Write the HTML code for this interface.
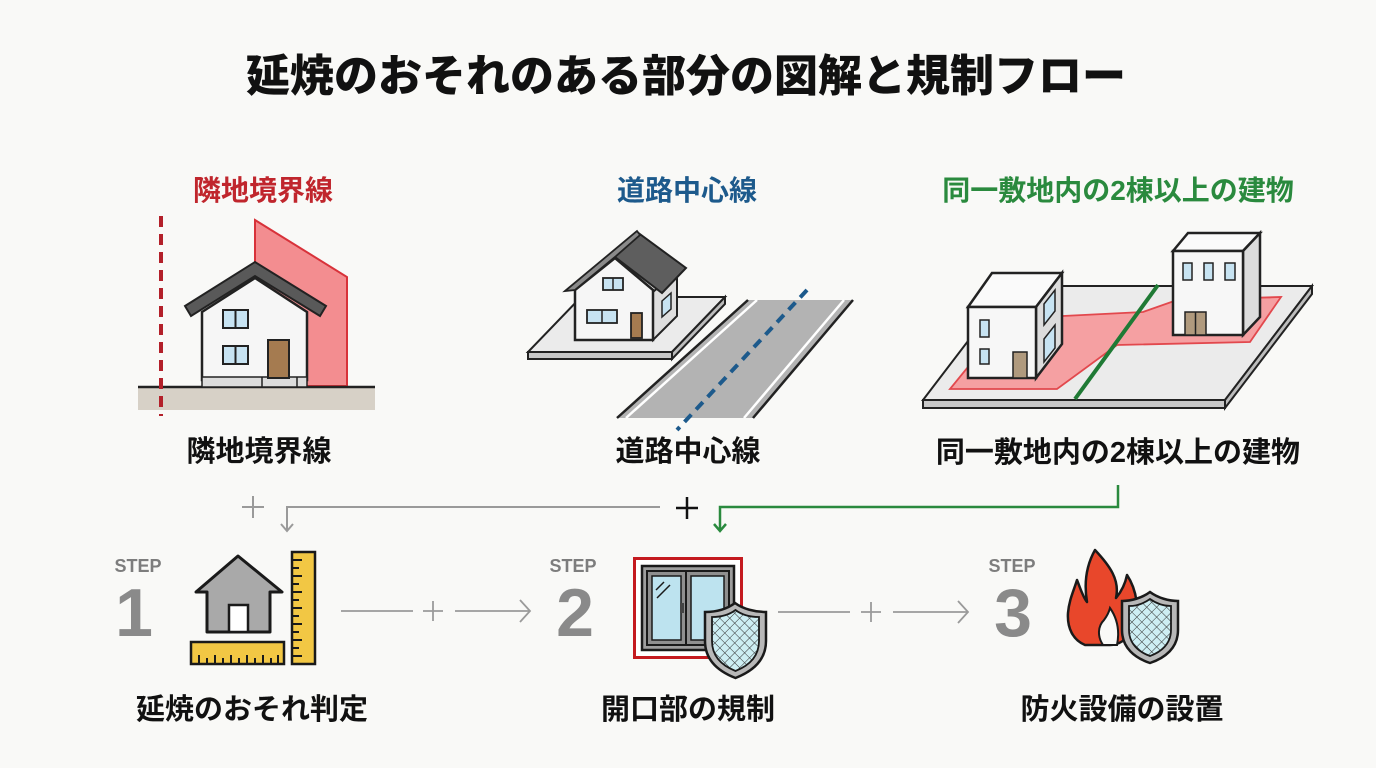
<!DOCTYPE html>
<html lang="ja">
<head>
<meta charset="utf-8">
<style>
  html,body{margin:0;padding:0;background:#f9f9f7;}
  body{width:1376px;height:768px;overflow:hidden;}
  svg{display:block;}
  text{font-family:"Liberation Sans","Noto Sans CJK JP",sans-serif;}
</style>
</head>
<body>
<svg width="1376" height="768" viewBox="0 0 1376 768" xmlns="http://www.w3.org/2000/svg">
  <defs>
    <pattern id="mesh" width="7" height="7" patternUnits="userSpaceOnUse" patternTransform="rotate(45)">
      <rect width="7" height="7" fill="#cdeef3"/>
      <line x1="0" y1="0" x2="0" y2="7" stroke="#333" stroke-width="1"/>
      <line x1="0" y1="0" x2="7" y2="0" stroke="#333" stroke-width="1"/>
    </pattern>
  </defs>

  <rect width="1376" height="768" fill="#f9f9f7"/>

  <!-- Title -->
  <text x="686" y="91" font-size="44" font-weight="900" text-anchor="middle" fill="#111">延焼のおそれのある部分の図解と規制フロー</text>

  <!-- ============ Panel 1: 隣地境界線 ============ -->
  <text x="263" y="200" font-size="28" font-weight="700" text-anchor="middle" fill="#c0262d">隣地境界線</text>
  <polygon points="255,220 347,277 347,386 255,386" fill="#f38d90" stroke="#d8323a" stroke-width="2"/>
  <rect x="138" y="387" width="237" height="23" fill="#d7d1c7"/>
  <line x1="138" y1="387" x2="375" y2="387" stroke="#222" stroke-width="2.5"/>
  <polygon points="202,312 255,278 307,312 307,380 202,380" fill="#f6f6f6" stroke="#222" stroke-width="2.5"/>
  <rect x="202" y="377" width="105" height="10" fill="#dcdcdc" stroke="#222" stroke-width="1.5"/>
  <line x1="262" y1="377" x2="262" y2="387" stroke="#222" stroke-width="1.5"/>
  <line x1="297" y1="377" x2="297" y2="387" stroke="#222" stroke-width="1.5"/>
  <polygon points="185,306 255,262 326,306 320,316 255,276 191,316" fill="#595959" stroke="#222" stroke-width="2"/>
  <rect x="223" y="310" width="25" height="18" fill="#c7e3f2" stroke="#222" stroke-width="2"/>
  <line x1="235.5" y1="310" x2="235.5" y2="328" stroke="#222" stroke-width="2"/>
  <rect x="223" y="346" width="25" height="18" fill="#c7e3f2" stroke="#222" stroke-width="2"/>
  <line x1="235.5" y1="346" x2="235.5" y2="364" stroke="#222" stroke-width="2"/>
  <rect x="268" y="340" width="21" height="38" fill="#a57b50" stroke="#222" stroke-width="2"/>
  <line x1="161" y1="216" x2="161" y2="416" stroke="#b3202a" stroke-width="4" stroke-dasharray="11 7"/>
  <text x="259" y="461" font-size="29" font-weight="700" text-anchor="middle" fill="#111">隣地境界線</text>

  <!-- ============ Panel 2: 道路中心線 ============ -->
  <text x="687" y="200" font-size="28" font-weight="700" text-anchor="middle" fill="#1d5a8c">道路中心線</text>
  <polygon points="528,352 672,352 725,297 581,297" fill="#ebebeb" stroke="#222" stroke-width="2"/>
  <polygon points="528,352 672,352 672,359 528,359" fill="#c8c8c8" stroke="#222" stroke-width="2"/>
  <polygon points="672,352 725,297 725,304 672,359" fill="#bdbdbd" stroke="#222" stroke-width="2"/>
  <polygon points="653,292 677,271 677,316 653,340" fill="#dedede" stroke="#222" stroke-width="2"/>
  <polygon points="575,340 575,290 615,258 653,290 653,340" fill="#f6f6f6" stroke="#222" stroke-width="2.5"/>
  <polygon points="615,257 637,232 686,268 662,293" fill="#5e5e5e" stroke="#222" stroke-width="2"/>
  <polygon points="565,291 637,231 640,235 615,257 575,290" fill="#8a8a8a" stroke="#222" stroke-width="1.8"/>
  <rect x="603" y="278" width="20" height="12" fill="#c7e3f2" stroke="#222" stroke-width="1.8"/>
  <line x1="613" y1="278" x2="613" y2="290" stroke="#222" stroke-width="1.5"/>
  <rect x="587" y="310" width="30" height="13" fill="#c7e3f2" stroke="#222" stroke-width="1.8"/>
  <line x1="602" y1="310" x2="602" y2="323" stroke="#222" stroke-width="1.5"/>
  <rect x="631" y="313" width="11" height="25" fill="#a57b50" stroke="#222" stroke-width="1.8"/>
  <polygon points="662,301 671,293 671,309 662,317" fill="#c7e3f2" stroke="#222" stroke-width="1.5"/>
  <polygon points="617,418 753,418 853,300 748,300" fill="#b3b3b3"/>
  <line x1="626" y1="418" x2="757" y2="300" stroke="#fff" stroke-width="2.5"/>
  <line x1="744" y1="418" x2="844" y2="300" stroke="#fff" stroke-width="2.5"/>
  <line x1="617" y1="418" x2="748" y2="300" stroke="#222" stroke-width="2.5"/>
  <line x1="753" y1="418" x2="853" y2="300" stroke="#222" stroke-width="2.5"/>
  <line x1="807" y1="290" x2="677" y2="430" stroke="#1d5a8c" stroke-width="4" stroke-dasharray="10 7"/>
  <text x="688" y="461" font-size="29" font-weight="700" text-anchor="middle" fill="#111">道路中心線</text>

  <!-- ============ Panel 3: 同一敷地内 ============ -->
  <text x="1118" y="200" font-size="28" font-weight="700" text-anchor="middle" fill="#2a8a3e">同一敷地内の2棟以上の建物</text>
  <polygon points="923,400 1225,400 1312,286 1010,286" fill="#ebebeb" stroke="#222" stroke-width="2"/>
  <polygon points="923,400 1225,400 1225,408 923,408" fill="#c8c8c8" stroke="#222" stroke-width="2"/>
  <polygon points="1225,400 1312,286 1312,294 1225,408" fill="#bdbdbd" stroke="#222" stroke-width="2"/>
  <polygon points="950,389 1057,389 1117,345 1250,342 1281,297 1177,300 1143,312 1063,316 990,340" fill="#f5a0a2" stroke="#e2484d" stroke-width="1.8"/>
  <line x1="1158" y1="285" x2="1075" y2="399" stroke="#1f7a35" stroke-width="4"/>
  <polygon points="968,307 992,273 1062,273 1036,307" fill="#fafafa" stroke="#222" stroke-width="2.5"/>
  <polygon points="1036,307 1062,273 1062,344 1036,378" fill="#dcdcdc" stroke="#222" stroke-width="2.5"/>
  <rect x="968" y="307" width="68" height="71" fill="#f7f7f7" stroke="#222" stroke-width="2.5"/>
  <rect x="980" y="320" width="9" height="17" fill="#c7e3f2" stroke="#222" stroke-width="1.5"/>
  <rect x="980" y="349" width="9" height="15" fill="#c7e3f2" stroke="#222" stroke-width="1.5"/>
  <rect x="1013" y="352" width="14" height="26" fill="#b09a7e" stroke="#222" stroke-width="1.5"/>
  <polygon points="1044,304 1055,290 1055,311 1044,325" fill="#c7e3f2" stroke="#222" stroke-width="1.5"/>
  <polygon points="1044,339 1055,325 1055,348 1044,362" fill="#c7e3f2" stroke="#222" stroke-width="1.5"/>
  <polygon points="1173,251 1188,233 1260,233 1243,251" fill="#fafafa" stroke="#222" stroke-width="2.5"/>
  <polygon points="1243,251 1260,233 1260,317 1243,335" fill="#dcdcdc" stroke="#222" stroke-width="2.5"/>
  <rect x="1173" y="251" width="70" height="84" fill="#f7f7f7" stroke="#222" stroke-width="2.5"/>
  <rect x="1183" y="263" width="9" height="17" fill="#c7e3f2" stroke="#222" stroke-width="1.5"/>
  <rect x="1204" y="263" width="9" height="17" fill="#c7e3f2" stroke="#222" stroke-width="1.5"/>
  <rect x="1225" y="263" width="10" height="17" fill="#c7e3f2" stroke="#222" stroke-width="1.5"/>
  <rect x="1185" y="312" width="21" height="23" fill="#b09a7e" stroke="#222" stroke-width="1.5"/>
  <line x1="1195.5" y1="312" x2="1195.5" y2="335" stroke="#222" stroke-width="1.5"/>
  <text x="1118" y="462" font-size="29" font-weight="700" text-anchor="middle" fill="#111">同一敷地内の2棟以上の建物</text>

  <!-- ============ Connectors ============ -->
  <g stroke="#9a9a9a" stroke-width="2" fill="none">
    <line x1="242" y1="507" x2="264" y2="507"/>
    <line x1="253" y1="496" x2="253" y2="518"/>
    <polyline points="660,507 287,507 287,531"/>
    <polyline points="281,524 287,531 293,524"/>
  </g>
  <g stroke="#111" stroke-width="2.5">
    <line x1="676" y1="508" x2="698" y2="508"/>
    <line x1="687" y1="497" x2="687" y2="519"/>
  </g>
  <g stroke="#2a8a3e" stroke-width="2.5" fill="none">
    <polyline points="1118,485 1118,507 720,507 720,531"/>
    <polyline points="714,524 720,531 726,524"/>
  </g>

  <g stroke="#9a9a9a" stroke-width="1.8" fill="none">
    <line x1="341" y1="611" x2="413" y2="611"/>
    <line x1="423" y1="611" x2="443" y2="611"/>
    <line x1="433" y1="601" x2="433" y2="621"/>
    <line x1="455" y1="611" x2="530" y2="611"/>
    <polyline points="520,600 530,611 520,622"/>
    <line x1="778" y1="612" x2="850" y2="612"/>
    <line x1="861" y1="612" x2="881" y2="612"/>
    <line x1="871" y1="602" x2="871" y2="622"/>
    <line x1="893" y1="612" x2="968" y2="612"/>
    <polyline points="958,601 968,612 958,623"/>
  </g>

  <!-- ============ STEP 1 ============ -->
  <text x="138" y="572" font-size="18" font-weight="700" text-anchor="middle" fill="#7d7d7d">STEP</text>
  <text x="134" y="636" font-size="68" font-weight="700" text-anchor="middle" fill="#8a8a8a">1</text>
  <polygon points="238,556 282,592 270,592 270,632 207,632 207,592 196,592" fill="#a9a9a9" stroke="#1a1a1a" stroke-width="3" stroke-linejoin="round"/>
  <rect x="229" y="605" width="19" height="27" fill="#fff" stroke="#1a1a1a" stroke-width="2.5"/>
  <rect x="191" y="642" width="93" height="22" fill="#f2c744" stroke="#1a1a1a" stroke-width="2.5"/>
  <g stroke="#1a1a1a" stroke-width="2">
    <line x1="199" y1="664" x2="199" y2="655"/><line x1="207" y1="664" x2="207" y2="658"/>
    <line x1="215" y1="664" x2="215" y2="655"/><line x1="223" y1="664" x2="223" y2="658"/>
    <line x1="231" y1="664" x2="231" y2="655"/><line x1="239" y1="664" x2="239" y2="658"/>
    <line x1="247" y1="664" x2="247" y2="655"/><line x1="255" y1="664" x2="255" y2="658"/>
    <line x1="263" y1="664" x2="263" y2="655"/><line x1="271" y1="664" x2="271" y2="658"/>
    <line x1="278" y1="664" x2="278" y2="655"/>
  </g>
  <rect x="292" y="552" width="23" height="112" fill="#f2c744" stroke="#1a1a1a" stroke-width="2.5"/>
  <g stroke="#1a1a1a" stroke-width="2">
    <line x1="292" y1="560" x2="302" y2="560"/><line x1="292" y1="568" x2="299" y2="568"/>
    <line x1="292" y1="576" x2="302" y2="576"/><line x1="292" y1="584" x2="299" y2="584"/>
    <line x1="292" y1="592" x2="302" y2="592"/><line x1="292" y1="600" x2="299" y2="600"/>
    <line x1="292" y1="608" x2="302" y2="608"/><line x1="292" y1="616" x2="299" y2="616"/>
    <line x1="292" y1="624" x2="302" y2="624"/><line x1="292" y1="632" x2="299" y2="632"/>
    <line x1="292" y1="640" x2="302" y2="640"/><line x1="292" y1="648" x2="299" y2="648"/>
    <line x1="292" y1="656" x2="302" y2="656"/>
  </g>
  <text x="252" y="719" font-size="29" font-weight="700" text-anchor="middle" fill="#111">延焼のおそれ判定</text>

  <!-- ============ STEP 2 ============ -->
  <text x="573" y="572" font-size="18" font-weight="700" text-anchor="middle" fill="#7d7d7d">STEP</text>
  <text x="575" y="636" font-size="68" font-weight="700" text-anchor="middle" fill="#8a8a8a">2</text>
  <rect x="634.5" y="558.5" width="107" height="99" fill="#fff" stroke="#c41a1f" stroke-width="3"/>
  <rect x="642" y="566" width="92" height="84" fill="#9e9e9e" stroke="#1a1a1a" stroke-width="2.5"/>
  <rect x="647" y="571" width="39" height="74" fill="#8f8f8f" stroke="#1a1a1a" stroke-width="2"/>
  <rect x="652" y="576" width="29" height="64" fill="#bde3ef" stroke="#1a1a1a" stroke-width="1.5"/>
  <rect x="686" y="571" width="43" height="74" fill="#8f8f8f" stroke="#1a1a1a" stroke-width="2"/>
  <rect x="691" y="576" width="33" height="64" fill="#bde3ef" stroke="#1a1a1a" stroke-width="1.5"/>
  <rect x="680" y="603" width="4" height="10" fill="#444"/>
  <line x1="656" y1="590" x2="664" y2="582" stroke="#1a1a1a" stroke-width="1.5"/>
  <line x1="657" y1="598" x2="670" y2="585" stroke="#1a1a1a" stroke-width="1.5"/>
  <g transform="translate(705,603)">
    <path d="M30,0 C38,6 50,9 61,9 L61,38 C61,58 46,69 30.5,75 C15,69 0,58 0,38 L0,9 C11,9 22,6 30,0 Z" fill="#b8b8b8" stroke="#1a1a1a" stroke-width="2.5"/>
    <path d="M30.5,7 C37,12 46,14 54,14 L54,38 C54,54 43,63 30.5,68 C18,63 7,54 7,38 L7,14 C15,14 24,12 30.5,7 Z" fill="url(#mesh)" stroke="#1a1a1a" stroke-width="1.8"/>
  </g>
  <text x="688" y="719" font-size="29" font-weight="700" text-anchor="middle" fill="#111">開口部の規制</text>

  <!-- ============ STEP 3 ============ -->
  <text x="1012" y="572" font-size="18" font-weight="700" text-anchor="middle" fill="#7d7d7d">STEP</text>
  <text x="1013" y="636" font-size="68" font-weight="700" text-anchor="middle" fill="#8a8a8a">3</text>
  <path d="M1095,550 C1110,566 1120,580 1116,598 C1121,592 1125,585 1127,575 C1137,590 1140,612 1134,628 C1128,640 1118,645 1110,645 L1085,645 C1073,640 1067,628 1068,613 C1069,600 1074,590 1077,580 C1081,590 1083,597 1087,602 C1084,584 1086,566 1095,550 Z" fill="#e8472b" stroke="#1a1a1a" stroke-width="2.5" stroke-linejoin="round"/>
  <path d="M1103,645 C1097,636 1098,626 1104,620 C1107,616 1109,612 1110,608 C1117,618 1120,630 1117,645 Z" fill="#f9f9f7" stroke="#1a1a1a" stroke-width="2"/>
  <g transform="translate(1122,592)">
    <path d="M28,0 C36,6 47,9 56,9 L56,38 C56,56 43,66 28,71 C13,66 0,56 0,38 L0,9 C9,9 20,6 28,0 Z" fill="#b8b8b8" stroke="#1a1a1a" stroke-width="2.5"/>
    <path d="M28,7 C35,12 43,14 49,14 L49,38 C49,52 39,60 28,64 C17,60 7,52 7,38 L7,14 C13,14 21,12 28,7 Z" fill="url(#mesh)" stroke="#1a1a1a" stroke-width="1.8"/>
  </g>
  <text x="1122" y="719" font-size="29" font-weight="700" text-anchor="middle" fill="#111">防火設備の設置</text>
</svg>
</body>
</html>
